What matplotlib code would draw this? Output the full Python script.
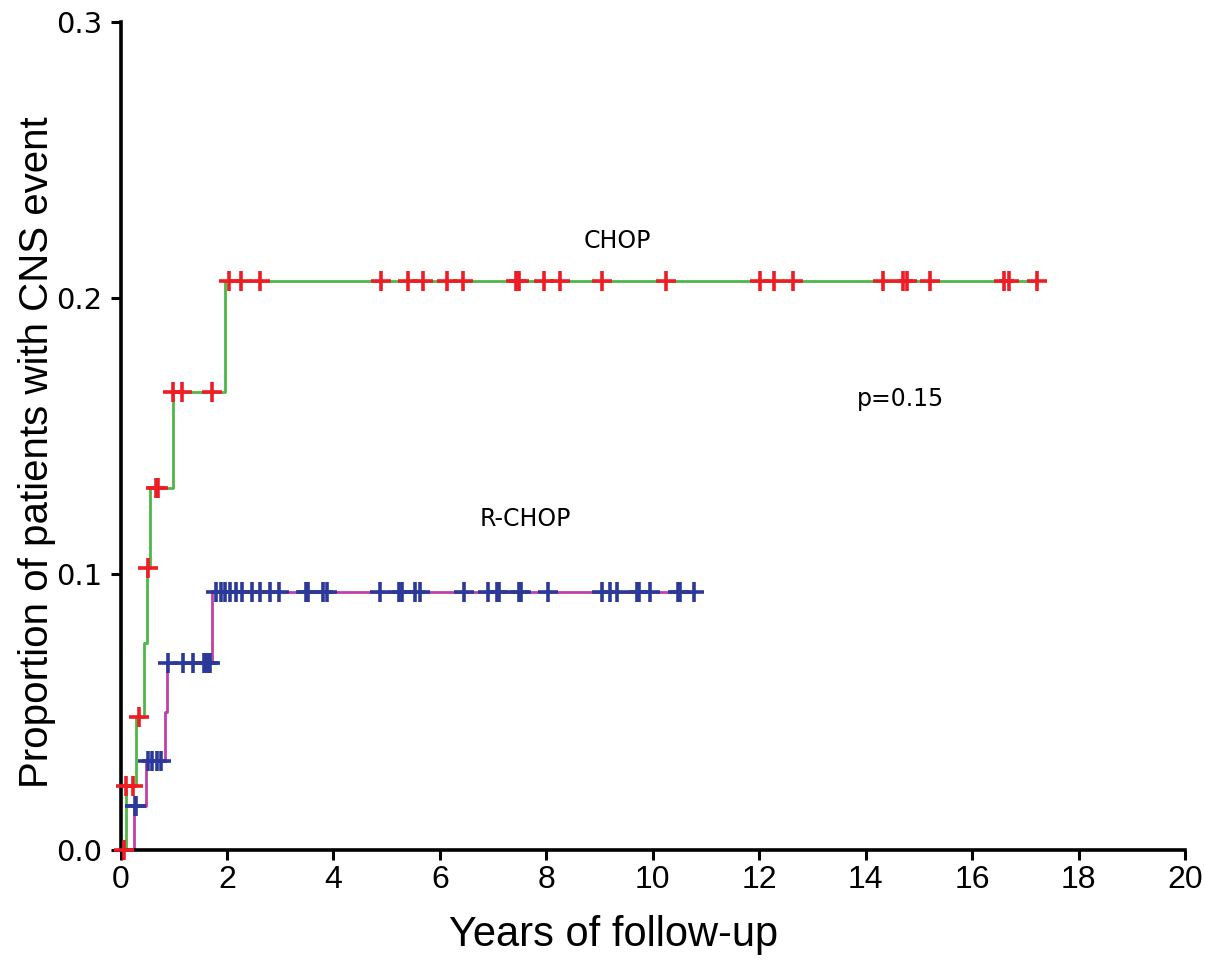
import numpy as np
import matplotlib
matplotlib.use("Agg")
import matplotlib.pyplot as plt

# ---- data ----
chop_event_t = [0.0, 0.10, 0.30, 0.45, 0.49, 0.55, 0.98, 1.96]
chop_event_p = [0.0, 0.023, 0.048, 0.075, 0.102, 0.131, 0.166, 0.206]
chop_end = 17.22
chop_censor_t = [0.07, 0.11, 0.23, 0.35, 0.52, 0.66, 0.70, 0.99, 1.16, 1.71,
                 2.03, 2.27, 2.63, 4.89, 5.40, 5.68, 6.14, 6.43, 7.43, 7.48,
                 7.95, 8.26, 9.05, 10.24, 12.02, 12.27, 12.63, 14.33, 14.70,
                 14.77, 15.21, 16.60, 16.70, 17.22]

rchop_event_t = [0.0, 0.25, 0.47, 0.84, 0.87, 1.72]
rchop_event_p = [0.0, 0.0156, 0.032, 0.050, 0.0677, 0.0935]
rchop_end = 10.77
rchop_censor_t = [0.27, 0.30, 0.52, 0.60, 0.68, 0.76, 0.89, 1.18, 1.37, 1.56,
                  1.60, 1.64, 1.68, 1.80, 1.89, 1.97, 2.06, 2.17, 2.28, 2.47,
                  2.62, 2.81, 2.97, 3.48, 3.52, 3.81, 3.88, 4.88, 5.23, 5.28,
                  5.54, 5.63, 6.45, 6.91, 7.07, 7.12, 7.49, 7.53, 8.04, 9.05,
                  9.20, 9.33, 9.71, 9.75, 9.95, 10.47, 10.51, 10.77]

x_ticks = [0, 2, 4, 6, 8, 10, 12, 14, 16, 18, 20]
y_ticks = [0.0, 0.1, 0.2, 0.3]
y_tick_labels = ["0.0", "0.1", "0.2", "0.3"]

label_font = ['Liberation Sans Narrow', 'Liberation Sans', 'DejaVu Sans']

fig = plt.figure(figsize=(12.05, 9.66), dpi=100)
ax = fig.add_axes([0.100, 0.1206, 0.8834, 0.8566])


def step_curve(ev_t, ev_p, end):
    t = list(ev_t) + [end]
    p = list(ev_p) + [ev_p[-1]]
    return np.array(t), np.array(p)


def value_at(ev_t, ev_p, times):
    idx = np.searchsorted(np.array(ev_t), np.array(times), side='right') - 1
    return np.array(ev_p)[idx]


# CHOP
t, p = step_curve(chop_event_t, chop_event_p, chop_end)
ax.step(t, p, where='post', color='#4db848', lw=2.0, zorder=2)
ax.plot(chop_censor_t, value_at(chop_event_t, chop_event_p, chop_censor_t),
        linestyle='none', marker='+', markersize=15, mew=2.6,
        color='#ee1c24', zorder=3, clip_on=False)

# R-CHOP
t, p = step_curve(rchop_event_t, rchop_event_p, rchop_end)
ax.step(t, p, where='post', color='#c040a8', lw=2.0, zorder=2)
ax.plot(rchop_censor_t, value_at(rchop_event_t, rchop_event_p, rchop_censor_t),
        linestyle='none', marker='+', markersize=15, mew=2.6,
        color='#2b3a9a', zorder=3, clip_on=False)

ax.set_xlim(0, 20)
ax.set_ylim(0, 0.3)
ax.set_xticks(x_ticks)
ax.set_xticklabels([str(v) for v in x_ticks], family=label_font, fontsize=23)
ax.set_yticks(y_ticks)
ax.set_yticklabels(y_tick_labels, family='DejaVu Sans', fontsize=21)

for s in ['top', 'right']:
    ax.spines[s].set_visible(False)
for s in ['left', 'bottom']:
    ax.spines[s].set_linewidth(2.6)
    ax.spines[s].set_color('black')
ax.tick_params(axis='both', direction='out', length=7, width=2.2, color='black')
ax.tick_params(axis='x', pad=4)
ax.tick_params(axis='y', pad=6)

ax.set_xlabel("Years of follow-up", family=label_font, fontsize=30, va='center')
ax.set_ylabel("Proportion of patients with CNS event", family=label_font,
              fontsize=29, va='center')
ax.xaxis.set_label_coords(0.463, -0.103)
ax.yaxis.set_label_coords(-0.078, 0.48)

ax.text(9.33, 0.2205, "CHOP", fontsize=17, ha='center', va='center', family='DejaVu Sans')
ax.text(7.6, 0.1198, "R-CHOP", fontsize=17, ha='center', va='center', family='DejaVu Sans')
ax.text(14.65, 0.1635, "p=0.15", fontsize=17, ha='center', va='center', family='DejaVu Sans')

fig.savefig("out.png", dpi=100)
